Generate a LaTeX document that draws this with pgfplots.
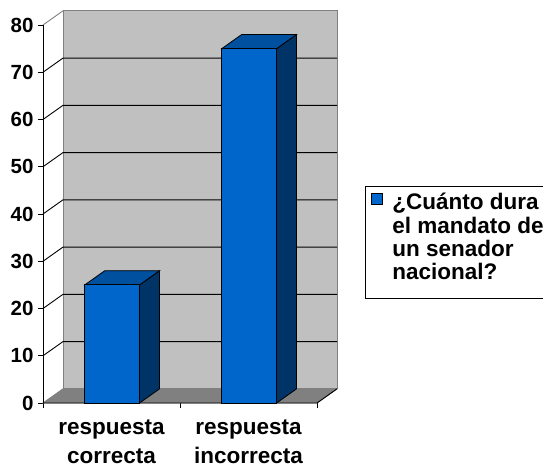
\documentclass[border=0pt]{standalone}
\usepackage{fontspec}
\setmainfont{Liberation Sans}
\usepackage{pgfplots}
\pgfplotsset{compat=1.18}
\definecolor{wallgray}{RGB}{192,192,192}
\definecolor{floorgray}{RGB}{128,128,128}
\definecolor{edgegray}{RGB}{128,128,128}
\definecolor{barfront}{RGB}{0,102,204}
\definecolor{bartop}{RGB}{0,80,160}
\definecolor{barside}{RGB}{0,51,102}
\begin{document}
\begin{tikzpicture}
\useasboundingbox (0,0) rectangle (543pt,467pt);
\begin{axis}[
  x=137pt, y=4.725pt,
  anchor=origin, at={(43pt,64pt)},
  xmin=0, xmax=2.2, ymin=0, ymax=83,
  axis line style={draw=none},
  clip=false,
  xtick={0.5,1.5},
  xticklabels={respuesta\\correcta, respuesta\\incorrecta},
  minor xtick={0,1,2},
  ytick={0,10,...,80},
  xtick pos=bottom, ytick pos=left,
  tick align=outside,
  major tick length=5pt, minor tick length=5pt,
  major x tick style={draw=none},
  minor x tick style={black, line width=0.9pt},
  ytick style={black, line width=0.9pt},
  /pgf/number format/assume math mode=true,
  yticklabel style={font=\bfseries\fontsize{20.5}{21}\selectfont, xshift=-1pt},
  xticklabel style={align=center, font=\bfseries\fontsize{22.5}{29}\selectfont, yshift=-8pt},
  legend style={at={(1.068,0.5534)}, anchor=north west, draw=black, line width=0.8pt,
    font=\bfseries\fontsize{22.5}{23.3}\selectfont, nodes={align=left}, inner xsep=3pt, inner ysep=5pt},
  legend cell align=left,
  legend image code/.code={\path[draw=none, fill=none] (0pt,0pt) rectangle (22pt,1pt);
    \draw[fill=barfront, draw=black, line width=0.6pt] (3pt,38pt) rectangle (14pt,49pt);},
]
% back wall
\addplot[draw=edgegray, line width=0.9pt, fill=wallgray, forget plot] coordinates {(0.146,3)(2.146,3)(2.146,83)(0.146,83)} -- cycle;
% grid lines (left wall diagonals + back wall)
\addplot[black, line width=0.9pt, forget plot] coordinates {(0,10)(0.146,13)(2.146,13)};
\addplot[black, line width=0.9pt, forget plot] coordinates {(0,20)(0.146,23)(2.146,23)};
\addplot[black, line width=0.9pt, forget plot] coordinates {(0,30)(0.146,33)(2.146,33)};
\addplot[black, line width=0.9pt, forget plot] coordinates {(0,40)(0.146,43)(2.146,43)};
\addplot[black, line width=0.9pt, forget plot] coordinates {(0,50)(0.146,53)(2.146,53)};
\addplot[black, line width=0.9pt, forget plot] coordinates {(0,60)(0.146,63)(2.146,63)};
\addplot[black, line width=0.9pt, forget plot] coordinates {(0,70)(0.146,73)(2.146,73)};
\addplot[edgegray, line width=0.9pt, forget plot] coordinates {(0,80)(0.146,83)};
% floor
\addplot[fill=floorgray, draw=edgegray, line width=0.9pt, forget plot] coordinates {(0,0)(2,0)(2.146,3)(0.146,3)} -- cycle;
\addplot[black, line width=0.9pt, forget plot] coordinates {(0,0)(2,0)(2.146,3)};
% y axis line
\addplot[black, line width=0.9pt, forget plot] coordinates {(0,0)(0,80)};
% bar sides and tops
\addplot[fill=barside, draw=black, line width=0.8pt, forget plot] coordinates {(0.705,0)(0.851,3)(0.851,28)(0.705,25)} -- cycle;
\addplot[fill=bartop, draw=black, line width=0.8pt, forget plot] coordinates {(0.305,25)(0.705,25)(0.851,28)(0.451,28)} -- cycle;
\addplot[fill=barside, draw=black, line width=0.8pt, forget plot] coordinates {(1.705,0)(1.851,3)(1.851,78)(1.705,75)} -- cycle;
\addplot[fill=bartop, draw=black, line width=0.8pt, forget plot] coordinates {(1.305,75)(1.705,75)(1.851,78)(1.451,78)} -- cycle;
% bar fronts
\addplot[ybar, bar width=54.8pt, fill=barfront, draw=black, line width=0.8pt] coordinates {(0.505,25)(1.505,75)};
\addlegendentry{¿Cuánto dura\\el mandato de\\un senador\\nacional?\\[-13pt]\rule{0pt}{0pt}}
\end{axis}
\end{tikzpicture}
\end{document}
